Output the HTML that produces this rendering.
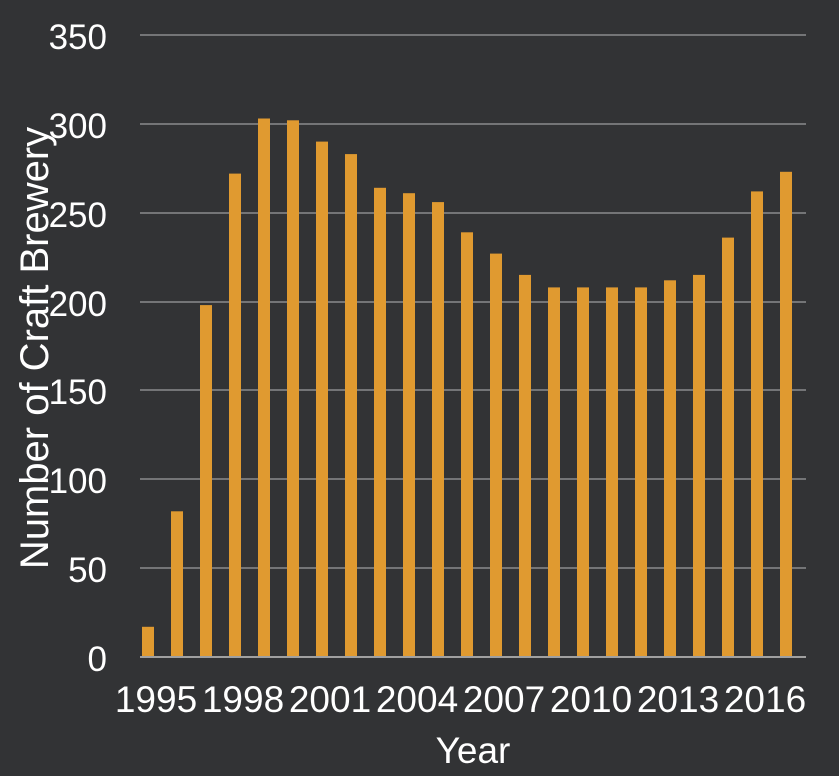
<!DOCTYPE html>
<html><head><style>
html,body{margin:0;padding:0;background:#323335;}
svg{display:block}
text{font-family:"Liberation Sans",Arial,sans-serif;fill:#fff;}
</style></head><body>
<svg width="839" height="776" viewBox="0 0 839 776">
<rect width="839" height="776" fill="#323335"/>
<g stroke="#8a8b8d" stroke-width="1.5">
<line x1="140" x2="806" y1="35" y2="35"/>
<line x1="140" x2="806" y1="124" y2="124"/>
<line x1="140" x2="806" y1="213" y2="213"/>
<line x1="140" x2="806" y1="302" y2="302"/>
<line x1="140" x2="806" y1="390" y2="390"/>
<line x1="140" x2="806" y1="479" y2="479"/>
<line x1="140" x2="806" y1="568" y2="568"/>
</g>
<g fill="#E09A30">
<rect x="142" y="626.8" width="12" height="30.2"/>
<rect x="171" y="511.3" width="12" height="145.7"/>
<rect x="200" y="305.1" width="12" height="351.9"/>
<rect x="229" y="173.6" width="12" height="483.4"/>
<rect x="258" y="118.5" width="12" height="538.5"/>
<rect x="287" y="120.3" width="12" height="536.7"/>
<rect x="316" y="141.6" width="12" height="515.4"/>
<rect x="345" y="154.1" width="12" height="502.9"/>
<rect x="374" y="187.8" width="12" height="469.2"/>
<rect x="403" y="193.2" width="12" height="463.8"/>
<rect x="432" y="202.1" width="12" height="454.9"/>
<rect x="461" y="232.3" width="12" height="424.7"/>
<rect x="490" y="253.6" width="12" height="403.4"/>
<rect x="519" y="274.9" width="12" height="382.1"/>
<rect x="548" y="287.4" width="12" height="369.6"/>
<rect x="577" y="287.4" width="12" height="369.6"/>
<rect x="606" y="287.4" width="12" height="369.6"/>
<rect x="635" y="287.4" width="12" height="369.6"/>
<rect x="664" y="280.3" width="12" height="376.7"/>
<rect x="693" y="274.9" width="12" height="382.1"/>
<rect x="722" y="237.6" width="12" height="419.4"/>
<rect x="751" y="191.4" width="12" height="465.6"/>
<rect x="780" y="171.8" width="12" height="485.2"/>
</g>
<line x1="140" x2="806" y1="657" y2="657" stroke="#a0a0a0" stroke-width="2"/>
<g font-size="35" text-anchor="end">
<text x="107" y="49">350</text>
<text x="107" y="138">300</text>
<text x="107" y="227">250</text>
<text x="107" y="316">200</text>
<text x="107" y="404">150</text>
<text x="107" y="493">100</text>
<text x="107" y="582">50</text>
<text x="107" y="671">0</text>
</g>
<g font-size="37" text-anchor="middle">
<text x="156" y="712">1995</text>
<text x="243" y="712">1998</text>
<text x="330" y="712">2001</text>
<text x="417" y="712">2004</text>
<text x="504" y="712">2007</text>
<text x="591" y="712">2010</text>
<text x="678" y="712">2013</text>
<text x="765" y="712">2016</text>
</g>
<text x="473" y="763" font-size="37" text-anchor="middle">Year</text>
<text transform="translate(48,348) rotate(-90)" font-size="40" text-anchor="middle">Number of Craft Brewery</text>
</svg>
</body></html>
